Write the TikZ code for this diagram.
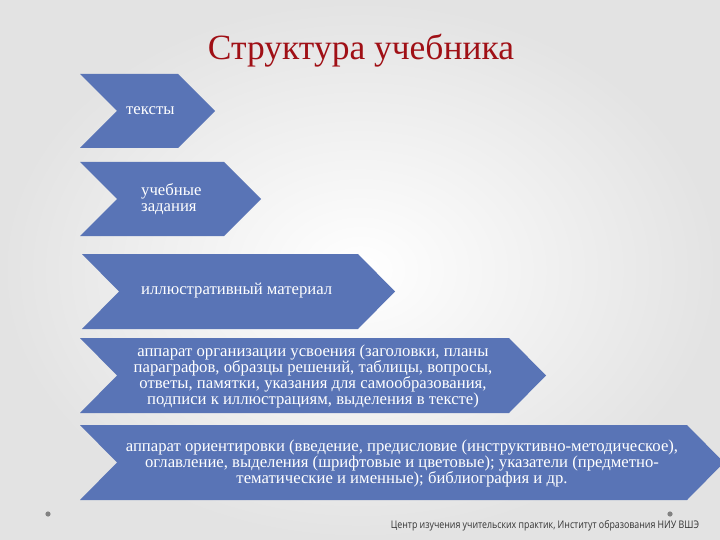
\documentclass[tikz,border=0pt]{standalone}
\usepackage{fontspec}
\setmainfont{Liberation Serif}
\newfontfamily\footfont{Open Sans}
\definecolor{chevblue}{RGB}{89,116,182}
\definecolor{titlered}{RGB}{160,16,22}
\definecolor{dotgray}{RGB}{130,130,130}
\tikzset{
  chev/.style={fill=chevblue},
  chevtext/.style={text=white, font=\fontsize{16.7}{16}\selectfont, inner sep=0pt},
}
\begin{document}
\begin{tikzpicture}[x=1pt, y=-1pt]

\useasboundingbox (0,0) rectangle (720,540);
\shade[inner color=white, outer color=black!11] (0,0) rectangle (720,540);

\node[text=titlered, font=\fontsize{35.5}{38}\selectfont, anchor=base] (title) at (361,60) {Структура учебника};

\fill[chev] (80,74) -- (178,74) -- (215,111) -- (178,148) -- (80,148) -- (117,111) -- cycle;
\fill[chev] (80,162) -- (224,162) -- (261,199) -- (224,236) -- (80,236) -- (117,199) -- cycle;
\fill[chev] (82,254) -- (358,254) -- (395,291.5) -- (358,329) -- (82,329) -- (119,291.5) -- cycle;
\fill[chev] (80,338) -- (509,338) -- (546,375.5) -- (509,413) -- (80,413) -- (117,375.5) -- cycle;
\fill[chev] (80,425) -- (687,425) -- (724,462.5) -- (687,500) -- (80,500) -- (117,462.5) -- cycle;

\node[chevtext, anchor=west] (texts) at (126,111) {тексты};
\node[chevtext, anchor=west, align=left] (tasks) at (141,199) {учебные\\задания};
\node[chevtext, anchor=west] (illus) at (141,291) {иллюстративный материал};
\node[chevtext, align=center] (organ) at (313,376) {аппарат организации усвоения (заголовки, планы\\параграфов, образцы решений, таблицы, вопросы,\\ответы, памятки, указания для самообразования,\\подписи к иллюстрациям, выделения в тексте)};
\node[chevtext, align=center] (orient) at (402,463) {аппарат ориентировки (введение, предисловие (инструктивно-методическое),\\оглавление, выделения (шрифтовые и цветовые); указатели (предметно-\\тематические и именные); библиография и др.};

\fill[dotgray] (48,514) circle (2.6);
\fill[dotgray] (670,514) circle (2.6);

\node[font=\footfont\fontsize{10.5}{12}\selectfont, text=black!80, anchor=base east, xscale=0.84] (foot) at (702,528) {Центр изучения учительских практик, Институт образования НИУ ВШЭ};

\end{tikzpicture}
\end{document}
